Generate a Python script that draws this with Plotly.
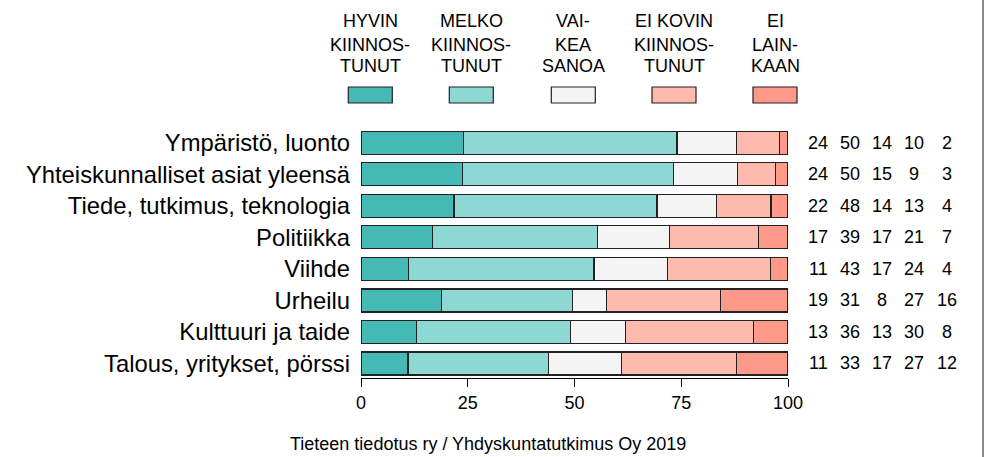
import plotly.graph_objects as go

categories = ["Ympäristö, luonto", "Yhteiskunnalliset asiat yleensä",
              "Tiede, tutkimus, teknologia", "Politiikka", "Viihde",
              "Urheilu", "Kulttuuri ja taide", "Talous, yritykset, pörssi"]

header_lines = [["HYVIN", "KIINNOS-", "TUNUT"],
                ["MELKO", "KIINNOS-", "TUNUT"],
                ["VAI-", "KEA", "SANOA"],
                ["EI KOVIN", "KIINNOS-", "TUNUT"],
                ["EI", "LAIN-", "KAAN"]]

hyvin = [24, 24, 22, 17, 11, 19, 13, 11]
melko = [50, 50, 48, 39, 43, 31, 36, 33]
vaikea = [14, 15, 14, 17, 17, 8, 13, 17]
ei_kovin = [10, 9, 13, 21, 24, 27, 30, 27]
ei_lainkaan = [2, 3, 4, 7, 4, 16, 8, 12]

series = [hyvin, melko, vaikea, ei_kovin, ei_lainkaan]
colors = ["#45B9B4", "#8ED8D3", "#F4F4F4", "#FFBAAE", "#FF998A"]

x_ticks = [0, 25, 50, 75, 100]
caption = "Tieteen tiedotus ry / Yhdyskuntatutkimus Oy 2019"

FONT = "Liberation Sans, Arial, sans-serif"

W, H = 987, 457
# plot area in page pixels
L, R, T, B = 361, 788, 127, 378
def pxx(p):
    return (p - L) / (R - L)
def pxy(p):
    return (B - p) / (B - T)

fig = go.Figure()
for vals, col in zip(series, colors):
    fig.add_trace(go.Bar(
        x=vals, y=categories, orientation="h",
        marker=dict(color=col, line=dict(color="#222222", width=1.2)),
        width=0.73, showlegend=False, hoverinfo="x+y"))

annotations = []
shapes = []
# legend headers and boxes
box_centers = [370.3, 471.3, 573.3, 674.0, 775.0]
line_y = [21.5, 44.5, 66.0]
for i, lines in enumerate(header_lines):
    cx = box_centers[i]
    for k, txt in enumerate(lines):
        annotations.append(dict(
            text=txt, x=pxx(cx), y=pxy(line_y[k]), xref="paper", yref="paper",
            xanchor="center", yanchor="middle", showarrow=False,
            font=dict(family=FONT, size=18, color="black")))
    shapes.append(dict(
        type="rect", xref="paper", yref="paper",
        x0=pxx(cx - 22), x1=pxx(cx + 22), y0=pxy(103), y1=pxy(87),
        fillcolor=colors[i], line=dict(color="#222222", width=1.2)))

# right-hand value columns
col_x = [818, 850, 882, 914, 947]
for j, vals in enumerate(series):
    for cat, v in zip(categories, vals):
        annotations.append(dict(
            text=str(v), x=pxx(col_x[j]), y=cat, xref="paper", yref="y",
            xanchor="center", yanchor="middle", showarrow=False,
            font=dict(family=FONT, size=18, color="black")))

# caption
annotations.append(dict(
    text=caption, x=pxx(488), y=pxy(444), xref="paper", yref="paper",
    xanchor="center", yanchor="middle", showarrow=False,
    font=dict(family=FONT, size=18, color="black")))

# right border line
shapes.append(dict(type="line", xref="paper", yref="paper",
                   x0=pxx(983), x1=pxx(983), y0=pxy(H), y1=pxy(0),
                   line=dict(color="#8a8a8a", width=2)))

fig.update_layout(
    barmode="stack", barnorm="percent",
    width=W, height=H,
    margin=dict(l=L, r=W - R, t=T, b=H - B, pad=0),
    paper_bgcolor="white", plot_bgcolor="white",
    font=dict(family=FONT, size=18, color="black"),
    annotations=annotations, shapes=shapes,
    xaxis=dict(range=[0, 100], tickvals=x_ticks, ticks="outside", ticklen=8,
               tickcolor="black", showline=True, linecolor="black", linewidth=1,
               showgrid=False, zeroline=False, fixedrange=True,
               tickfont=dict(size=18)),
    yaxis=dict(categoryorder="array", categoryarray=categories,
               range=[7.46, -0.5], ticks="", showgrid=False, zeroline=False,
               showline=False, ticklabelstandoff=10,
               tickfont=dict(size=23.8)),
)

fig.write_html(
    "out.html",
    config={"displayModeBar": False},
    post_script="document.body.style.margin='0';document.body.style.overflow='hidden';")
